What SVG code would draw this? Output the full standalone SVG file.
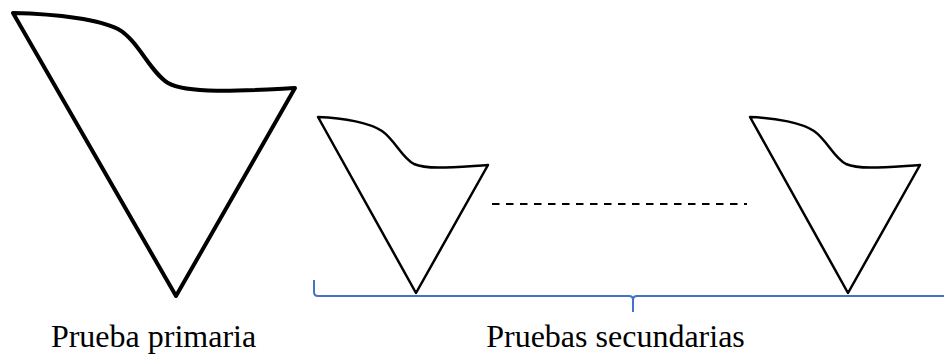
<svg xmlns="http://www.w3.org/2000/svg" width="944" height="356" viewBox="0 0 944 356">
<style>
.shape{fill:none;stroke:#000;stroke-linejoin:round;stroke-linecap:round}
.lbl{font-family:"Liberation Serif","Times New Roman",serif;font-size:32px;fill:#000;text-anchor:middle}
</style>
<defs>
<path id="small" d="M318,117 C345,118 370,123 382,131 C395,140 402,158 414,164 C428,170 455,167 488,165 L416,293 Z"/>
</defs>
<rect width="944" height="356" fill="#fff"/>
<g id="primary">
<path class="shape" stroke-width="4" d="M13,13 C60,14 100,20 118,29 C138,40 150,72 168,83 C188,95 255,90 295,88 L176,296 Z"/>
<text class="lbl" x="153.5" y="347">Prueba primaria</text>
</g>
<g id="secondary1">
<use href="#small" class="shape" stroke-width="2.5"/>
</g>
<g id="secondary2">
<use href="#small" class="shape" stroke-width="2.5" transform="translate(432,0)"/>
</g>
<g id="connectors">
<line x1="492" y1="204" x2="747" y2="204" stroke="#000" stroke-width="2" stroke-dasharray="7.5,6.5"/>
<path d="M314,280 L314,292 Q314,296 318,296 L629,296 Q633,296 633,300 L633,312 M633,300 Q633,296 637,296 L944,296" fill="none" stroke="#4472C4" stroke-width="2"/>
</g>
<g id="secondary-label">
<text class="lbl" x="615.5" y="347">Pruebas secundarias</text>
</g>
</svg>
